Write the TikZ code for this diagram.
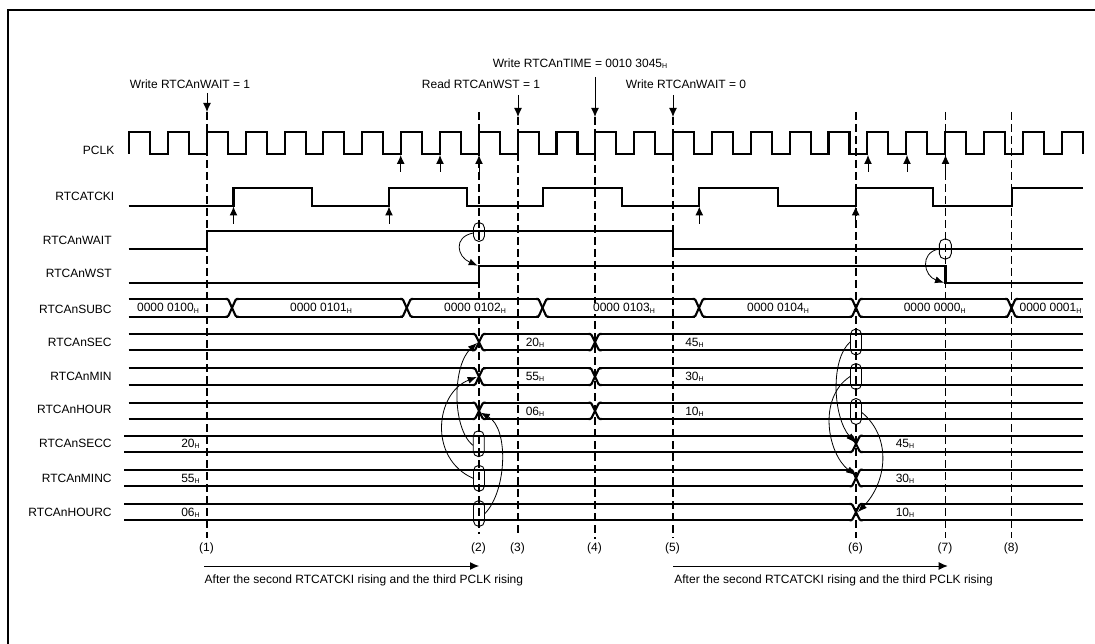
\documentclass[tikz,border=0pt]{standalone}
\usepackage{fontspec}
\setmainfont{Liberation Sans}
\usetikzlibrary{arrows.meta}

\newcommand{\Hs}{\raisebox{-1.5pt}{\fontsize{7}{8}\selectfont H}}
\newcommand{\buscross}[3]{%
  \fill[white] (#1-4,#2-1.2) rectangle (#1+4,#3+1.2);
  \draw[wave, rounded corners=1pt] (#1-6.5,#2) -- (#1-4,#2) -- (#1+4,#3) -- (#1+6.5,#3);
  \draw[wave, rounded corners=1pt] (#1-6.5,#3) -- (#1-4,#3) -- (#1+4,#2) -- (#1+6.5,#2);
}

\begin{document}
\begin{tikzpicture}[
  x=1pt, y=-1pt,
  every node/.style={font=\fontsize{12}{14}\selectfont, inner sep=0.5pt},
  wave/.style={line width=2.1pt, line join=miter},
  guide/.style={line width=1.1pt, dash pattern=on 8pt off 4pt},
  edge/.style={-{Latex[length=9pt, width=8pt]}, line width=1pt},
  thinedge/.style={-{Latex[length=9pt, width=7pt]}, line width=0.8pt},
  oval/.style={draw, line width=0.9pt, minimum width=11pt, minimum height=26pt, rounded corners=5.5pt},
  val/.style={fill=white}
]
\useasboundingbox (0,0) rectangle (1095,644);
\draw[line width=2pt] (7.5,644) -- (7.5,10) -- (1095,10);

% clock lines
\draw[wave] (129.15,154) \foreach \k in {-1,...,23} {
  -- ({168+38.85*\k},154) -- ({168+38.85*\k},132) -- ({168+38.85*\k+21},132) -- ({168+38.85*\k+21},154)};
\draw[wave] (128.7,205.7) -- (233.5,205.7) -- (233.5,187.7) -- (312,187.7) -- (312,205.7)
  -- (389,205.7) -- (389,187.7) -- (466.7,187.7) -- (466.7,205.7)
  -- (543.3,205.7) -- (543.3,187.7) -- (621.7,187.7) -- (621.7,205.7)
  -- (699.3,205.7) -- (699.3,187.7) -- (778.3,187.7) -- (778.3,205.7)
  -- (855.7,205.7) -- (855.7,187.7) -- (932.7,187.7) -- (932.7,205.7)
  -- (1011.7,205.7) -- (1011.7,187.7) -- (1083,187.7);
\draw[wave] (128.7,249) -- (207,249) -- (207,231) -- (673,231) -- (673,249) -- (1083,249);
\draw[wave] (128.7,283.3) -- (479,283.3) -- (479,265.7) -- (945.5,265.7) -- (945.5,283.3) -- (1083,283.3);

% register rows
\foreach \ytop/\ybot/\xstart in {299/316.7/128.7, 334/350.3/128.7, 368.3/385/128.7, 402.7/419/128.7,
    435.7/452/124, 469.7/486.3/124, 504/520.3/124} {
  \draw[wave] (\xstart,\ytop) -- (1083,\ytop);
  \draw[wave] (\xstart,\ybot) -- (1083,\ybot);
}
\foreach \xc in {232, 406.7, 542.5, 699, 856, 1011.5} {\buscross{\xc}{299}{316.7}}
\foreach \ytop/\ybot in {334/350.3, 368.3/385, 402.7/419} {
  \buscross{479}{\ytop}{\ybot}
  \buscross{595}{\ytop}{\ybot}
}
\foreach \ytop/\ybot in {435.7/452, 469.7/486.3, 504/520.3} {\buscross{856}{\ytop}{\ybot}}

% dashed markers
\foreach \name/\xm/\ym/\yb in {1/207/112/538, 2/479/112/534, 3/518/117/535, 4/595/117/539,
    5/673/117/538, 6/856/112/538, 7/945.5/112/538, 8/1011.7/112/538} {
  \coordinate (t\name) at (\xm,\ym);
  \coordinate (b\name) at (\xm,\yb);
  \draw[guide] (t\name) -- (b\name);
  \node (n\name) at (\xm-0.5,548) {(\name)};
}

% signal names
\foreach \name/\xr/\yc in {PCLK/115/150.7, RTCATCKI/115/196.7, RTCAnWAIT/112.3/240, RTCAnWST/112.3/273.7,
    RTCAnSUBC/112.3/309, RTCAnSEC/112.3/342.7, RTCAnMIN/112.3/376, RTCAnHOUR/112.3/409.7,
    RTCAnSECC/112.3/443.7, RTCAnMINC/112.3/478.7, RTCAnHOURC/112.3/512.7} {
  \node[anchor=east] (\name) at (\xr,\yc) {\name};
}

% values
\node[val] (s0) at (168,308.5) {0000 0100\Hs};
\node[val] (s1) at (321,308.5) {0000 0101\Hs};
\node[val] (s2) at (475,308.5) {0000 0102\Hs};
\node[val] (s3) at (624,308.5) {0000 0103\Hs};
\node[val] (s4) at (778,308.5) {0000 0104\Hs};
\node[val] (s5) at (934.7,308.5) {0000 0000\Hs};
\node[val] (s6) at (1050.5,308.5) {0000 0001\Hs};
\foreach \i/\xc/\yc/\txt in {a/535/343/20, b/535/377/55, c/535/411.7/06, d/694.5/343/45, e/694.5/377/30, f/694.5/411.7/10,
    g/190.5/444/20, h/190.5/479/55, i/190.5/513/06, j/905/443.7/45, k/905/479/30, l/905/512.7/10} {
  \node (v\i) at (\xc,\yc) {\txt\Hs};
}

% write and read labels
\node (wr1) at (190,84) {Write RTCAnWAIT = 1};
\node (rd1) at (481,84) {Read RTCAnWST = 1};
\node (wr2) at (580,63.7) {Write RTCAnTIME = 0010 3045\Hs};
\node (wr3) at (686,84) {Write RTCAnWAIT = 0};
\coordinate (w1) at (207,93);
\coordinate (w3) at (518,95);
\coordinate (w4) at (595,77);
\coordinate (w5) at (673,95);
\draw[edge] (w1) -- (t1);
\draw[edge] (w3) -- (t3);
\draw[edge] (w4) -- (t4);
\draw[edge] (w5) -- (t5);

% rising edge arrows
\foreach \i/\xm in {1/400.7, 2/440, 3/479, 4/868, 5/907, 6/945.5} {
  \coordinate (pt\i) at (\xm,172);
  \coordinate (ph\i) at (\xm,155);
  \draw[edge] (pt\i) -- (ph\i);
}
\foreach \i/\xm in {1/233.5, 2/389, 3/699.3, 4/855.7} {
  \coordinate (ct\i) at (\xm,224);
  \coordinate (ch\i) at (\xm,206.5);
  \draw[edge] (ct\i) -- (ch\i);
}

% ovals
\node[oval, minimum height=19pt] (ovWAIT) at (479,232) {};
\node[oval, minimum height=20pt, minimum width=12pt] (ovWST) at (945.3,249) {};
\node[oval] (ovSECC) at (478.7,443.7) {};
\node[oval] (ovMINC) at (479,478.3) {};
\node[oval] (ovHOURC) at (479,513.5) {};
\node[oval] (ovSEC) at (856,342) {};
\node[oval] (ovMIN) at (856,376.5) {};
\node[oval] (ovHOUR) at (856,411.5) {};

\coordinate (xWST) at (477.7,265.7);
\coordinate (xWST2) at (944,282.7);
\coordinate (xSEC) at (477,343);
\coordinate (xMIN) at (476.7,377);
\coordinate (xHOUR) at (480.7,412.7);
\coordinate (xSECC) at (855,442.7);
\coordinate (xMINC) at (855,475);
\coordinate (xHOURC) at (858,512);

\draw[thinedge] (ovWAIT.190) .. controls +(-20,4) and +(-20.7,-9) .. (xWST);
\draw[thinedge] (ovWST.180) .. controls +(-19.7,4) and +(-20,-6.7) .. (xWST2);
\draw[thinedge] (ovSECC.195) .. controls +(-21.3,-18) and +(-24.4,22) .. (xSEC);
\draw[thinedge] (ovMINC.180) .. controls +(-45,-20) and +(-41.3,16) .. (xMIN);
\draw[thinedge] (ovHOURC.0) .. controls +(22,-22.7) and +(28.3,15.3) .. (xHOUR);
\draw[thinedge] (ovSEC.180) .. controls +(-20,18) and +(-22,-25.7) .. (xSECC);
\draw[thinedge] (ovMIN.180) .. controls +(-33,22) and +(-27,-21) .. (xMINC);
\draw[thinedge] (ovHOUR.350) .. controls +(31,26) and +(28,-29) .. (xHOURC);

% bottom arrows
\coordinate (lg1) at (204,566);
\coordinate (lh1) at (479,566);
\coordinate (lg2) at (673,566);
\coordinate (lh2) at (947.7,566);
\draw[edge] (lg1) -- (lh1);
\draw[edge] (lg2) -- (lh2);
\node[anchor=west] (aft1) at (204,580) {After the second RTCATCKI rising and the third PCLK rising};
\node[anchor=west] (aft2) at (673.7,580) {After the second RTCATCKI rising and the third PCLK rising};
\end{tikzpicture}
\end{document}
